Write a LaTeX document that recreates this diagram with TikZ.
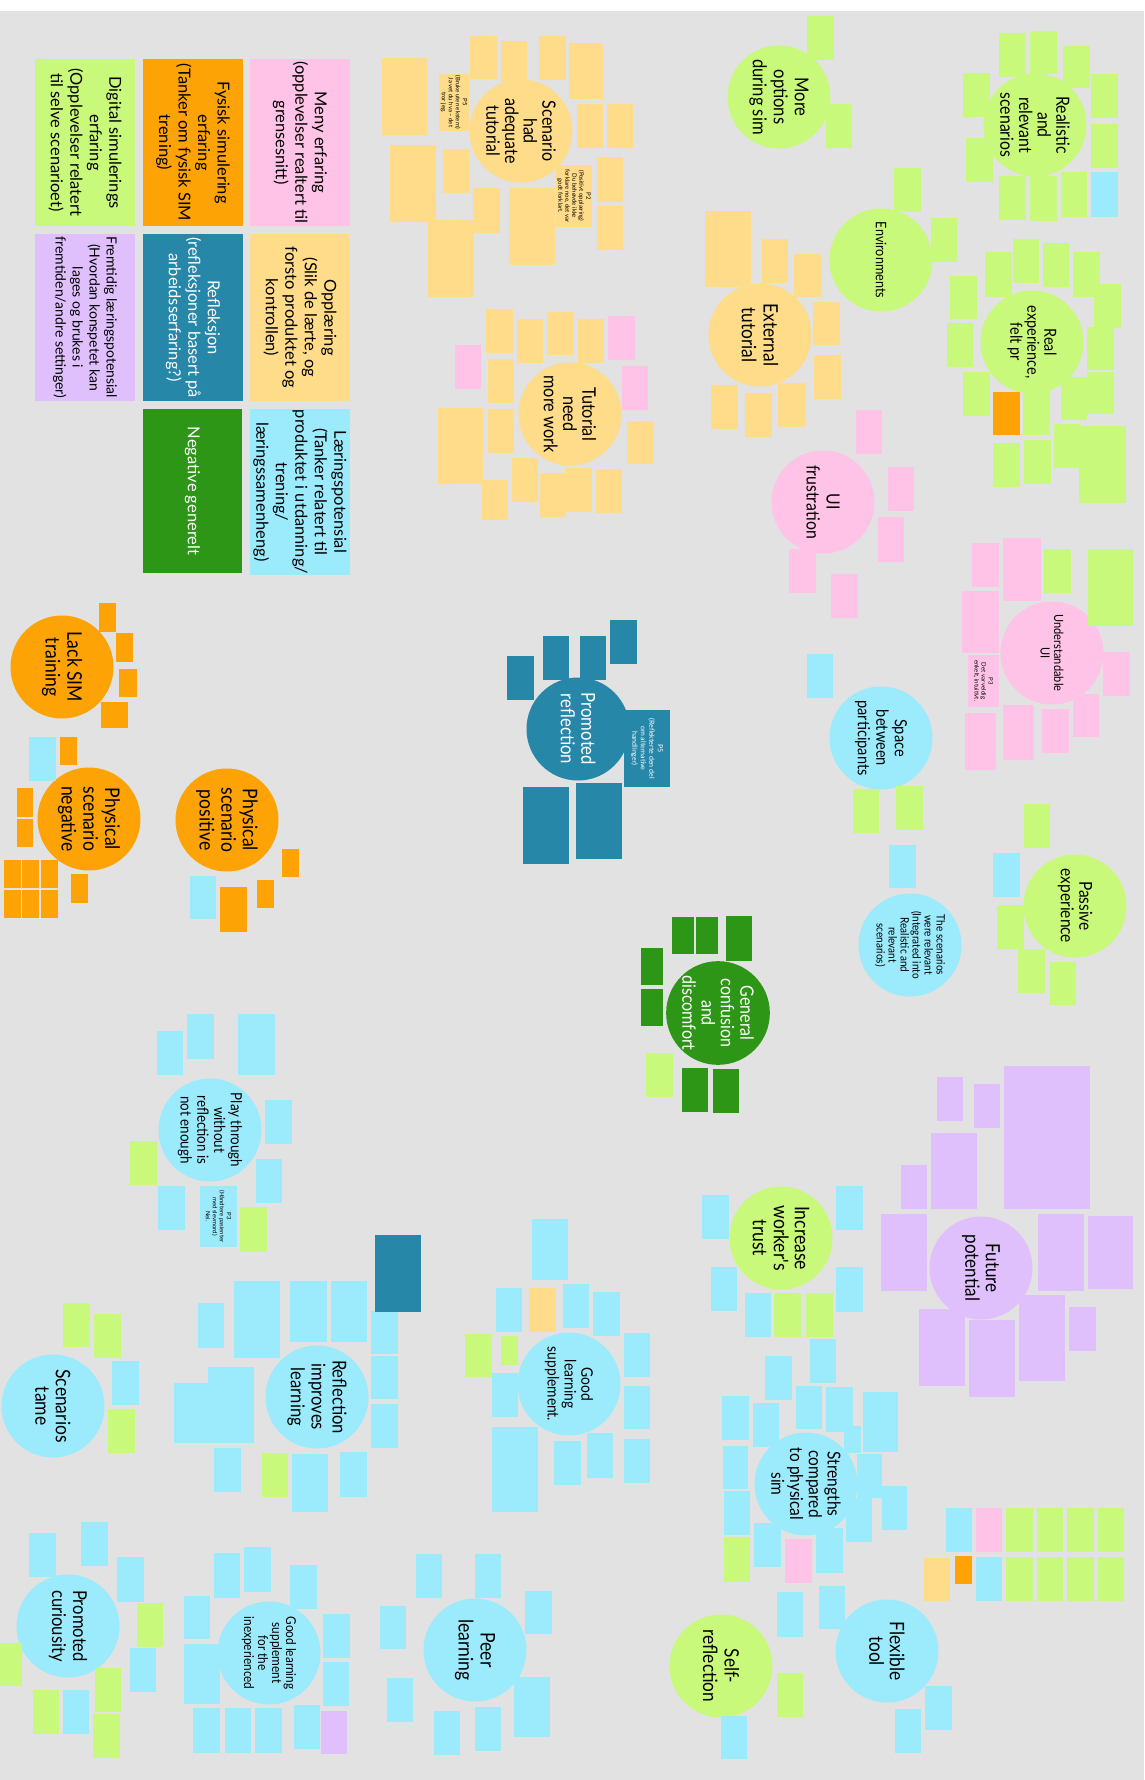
\documentclass[tikz,border=0pt]{standalone}
\usepackage{fontspec}
\setmainfont{Lato}
\newfontfamily\circfont[FakeStretch=0.87]{Lato}
\definecolor{bgc}{HTML}{E2E2E2}
\definecolor{pinkc}{HTML}{FEC3E6}
\definecolor{yelc}{HTML}{FEDC8A}
\definecolor{limec}{HTML}{C9F97B}
\definecolor{orc}{HTML}{FDA306}
\definecolor{tealc}{HTML}{2787A8}
\definecolor{dgrc}{HTML}{2E9616}
\definecolor{cyanc}{HTML}{9CEBFD}
\definecolor{lavc}{HTML}{DFBFFC}
\newcommand\myfs[2]{\fontsize{#1}{#2}\selectfont}
\newcommand\cfs[2]{\circfont\fontsize{#1}{#2}\selectfont}
\tikzset{
  circ/.style={circle, minimum size=103pt, inner sep=0pt, align=center, rotate=-90, font=\cfs{19}{21}},
  legtxt/.style={align=center, rotate=-90, inner sep=0pt, font=\myfs{16.5}{19.5}},
  sttxt/.style={align=center, rotate=-90, inner sep=0pt, font=\myfs{6}{7}}
}
\begin{document}
\begin{tikzpicture}[x=1pt,y=-1pt]
\useasboundingbox (0,0) rectangle (1144,1780);
\fill[white] (0,0) rectangle (1144,1780);
\fill[bgc] (0,11) rectangle (1144,1780);

% ---------- legend ----------
\fill[limec] (35,59) rectangle (135,226);
\node[legtxt] (lg1) at (85,142.5) {Digital simulerings\\erfaring\\(Opplevelser relatert\\til selve scenarioet)};
\fill[orc] (143,59) rectangle (243,226);
\node[legtxt] (lg2) at (193,142.5) {Fysisk simulering\\erfaring\\(Tanker om fysisk SIM\\trening)};
\fill[pinkc] (250,59) rectangle (350,226);
\node[legtxt] (lg3) at (300,142.5) {Meny erfaring\\(opplevelser realtert til\\grensesnitt)};
\fill[lavc] (35,234) rectangle (135,401);
\node[legtxt, font=\myfs{14}{17}] (lg4) at (85,317.5) {Fremtidig læringspotensial\\(Hvordan konspetet kan\\lages og brukes i\\fremtiden/andre settinger)};
\fill[tealc] (143,234) rectangle (243,401);
\node[legtxt, text=white] (lg5) at (193,317.5) {Refleksjon\\(refleksjoner basert på\\arbeidsserfaring?)};
\fill[yelc] (250,234) rectangle (350,401);
\node[legtxt] (lg6) at (300,317.5) {Opplæring\\(Slik de lærte, og\\forsto produktet og\\kontrollen)};
\fill[dgrc] (143,409) rectangle (242,573);
\node[legtxt, text=white] (lg7) at (192.5,491) {Negative generelt};
\fill[cyanc] (250,409) rectangle (350,575);
\node[legtxt] (lg8) at (300,492) {Læringspotensial\\(Tanker relatert til\\produktet i utdanning/\\trening/\\læringssamenheng)};

% ---------- circles ----------
\node[circ, fill=orc, font=\cfs{20.2}{21.7}] (lack) at (62,667) {Lack SIM\\training};
\node[circ, fill=orc, font=\cfs{20.2}{21.7}] (physneg) at (89,819) {Physical\\scenario\\negative};
\node[circ, fill=orc, font=\cfs{20.2}{21.7}] (physpos) at (227,820) {Physical\\scenario\\positive};
\node[circ, fill=yelc, font=\cfs{18.4}{18.6}] (adeq) at (521,131) {Scenario\\had\\adequate\\tutorial};
\node[circ, fill=yelc, font=\cfs{18.7}{19.2}] (tneed) at (570,414) {Tutorial\\need\\more work};
\node[circ, fill=yelc, font=\cfs{19.9}{21.7}] (ext) at (760,335) {External\\tutorial};
\node[circ, fill=limec, font=\cfs{19.1}{21}] (moreopt) at (779,97) {More\\options\\during sim};
\node[circ, fill=limec, font=\cfs{18.2}{18.6}] (realis) at (1035,125) {Realistic\\and\\relevant\\scenarios};
\node[circ, fill=limec, font=\cfs{14.5}{16}] (env) at (881,260) {Environments};
\node[circ, fill=limec, font=\cfs{16.6}{17}] (realexp) at (1032,342) {Real\\experience,\\felt pr};
\node[circ, fill=pinkc, font=\cfs{18.2}{20}] (uifr) at (823,502) {UI\\frustration};
\node[circ, fill=pinkc, font=\cfs{12.7}{13.6}] (underst) at (1052,653) {Understandable\\UI};
\node[circ, fill=tealc, text=white, font=\cfs{19.2}{20.5}] (promref) at (578,729) {Promoted\\reflection};
\node[circ, fill=cyanc, font=\cfs{16.8}{18.5}] (space) at (881,738) {Space\\between\\participants};
\node[circ, fill=cyanc, font=\cfs{11.5}{12}] (screl) at (910,945) {The scenarios\\were relevant\\(Integrated into\\Realistic and\\relevant\\scenarios)};
\node[circ, fill=limec, font=\cfs{17.8}{18.5}] (passive) at (1075,906) {Passive\\experience};
\node[circ, fill=dgrc, text=white, font=\cfs{18.4}{19.3}] (genconf) at (718,1013) {General\\confusion\\and\\discomfort};
\node[circ, fill=lavc, font=\cfs{19.6}{20.5}] (future) at (981,1268) {Future\\potential};
\node[circ, fill=limec, font=\cfs{20.2}{21}] (trust) at (781,1238) {Increase\\worker's\\trust};
\node[circ, fill=cyanc, font=\cfs{15.9}{16.8}] (goodls) at (569,1384) {Good\\learning\\supplement.};
\node[circ, fill=cyanc, font=\cfs{19.1}{20.8}] (reflimp) at (317,1397) {Reflection\\improves\\learning};
\node[circ, fill=cyanc, font=\cfs{20.1}{20.5}] (tame) at (53,1406) {Scenarios\\tame};
\node[circ, fill=cyanc, font=\cfs{15.4}{16.7}] (play) at (210,1130) {Play through\\without\\reflection is\\not enough};
\node[circ, fill=cyanc, font=\cfs{17.8}{18.7}] (strength) at (806,1484) {Strengths\\compared\\to physical\\sim};
\node[circ, fill=cyanc, font=\cfs{20}{20.5}] (flex) at (887,1651) {Flexible\\tool};
\node[circ, fill=limec, font=\cfs{19.8}{21.5}] (selfref) at (721,1666) {Self-\\reflection};
\node[circ, fill=cyanc, font=\cfs{19.1}{21}] (curio) at (68,1626) {Promoted\\curiousity};
\node[circ, fill=cyanc, font=\cfs{13.6}{14}] (glsinexp) at (269,1653) {Good learning\\supplement\\for the\\inexperienced};
\node[circ, fill=cyanc, font=\cfs{20.2}{22}] (peer) at (475,1650) {Peer\\learning};

% ---------- stickies ----------
\foreach \a/\b/\c/\d in {99/603/116/632, 116/633/133/662, 119/669/137/697, 101/702/128/728, 60/737/77/765, 17/788/33/817, 17/819/33/847, 4/860/21/888, 22/860/39/888, 41/860/58/888, 4/890/21/918, 22/890/39/918, 41/890/58/918, 71/874/88/903, 282/849/299/877, 257/880/274/908, 220/887/247/932, 993/392/1020/435, 955/1556/972/1584}
  \fill[orc] (\a,\b) rectangle (\c,\d);

\foreach \a/\b/\c/\d in {29/737/56/781, 190/876/216/919, 1091/172/1118/217, 807/654/833/698, 889/845/916/888, 993/853/1020/897,
 702/1195/729/1239, 836/1186/863/1230, 836/1267/863/1312, 711/1267/737/1311, 745/1293/771/1337,
 810/1339/836/1383, 765/1356/792/1400, 796/1386/822/1429, 826/1387/853/1432, 863/1392/898/1452, 722/1396/749/1440, 753/1403/779/1447, 844/1426/861/1453, 723/1446/748/1489, 857/1454/882/1498, 882/1486/907/1530, 724/1491/750/1535, 846/1498/872/1542, 754/1523/781/1567, 816/1528/843/1573, 777/1592/803/1637, 819/1586/845/1629,
 532/1219/568/1280, 496/1288/522/1332, 563/1284/589/1328, 593/1292/620/1336, 624/1333/650/1377, 624/1386/650/1429, 492/1373/518/1417, 624/1439/650/1483, 587/1433/613/1478, 554/1441/581/1485, 492/1427/538/1512,
 238/1014/275/1075, 187/1014/214/1059, 157/1031/183/1075, 265/1100/292/1144, 256/1159/282/1203, 158/1186/185/1230, 200/1186/237/1247,
 331/1281/367/1342, 290/1281/327/1342, 234/1281/280/1358, 198/1303/224/1348, 371/1311/398/1354, 371/1356/398/1399, 371/1404/398/1448, 208/1367/254/1443, 174/1383/208/1443, 214/1448/241/1492, 292/1454/328/1512, 340/1452/367/1497,
 112/1361/139/1405,
 29/1533/56/1577, 81/1522/108/1566, 117/1557/144/1602, 130/1648/156/1692, 63/1690/89/1734,
 214/1553/240/1598, 244/1547/271/1592, 290/1565/317/1609, 184/1596/210/1639, 184/1644/220/1704, 323/1614/350/1658, 323/1662/349/1706, 193/1708/220/1753, 225/1708/251/1753, 255/1708/282/1753, 294/1705/320/1749,
 416/1554/442/1598, 475/1554/501/1598, 380/1606/406/1649, 525/1591/552/1634, 387/1678/413/1722, 514/1677/550/1737, 434/1711/460/1755, 475/1707/501/1751,
 925/1686/952/1730, 895/1709/921/1753, 721/1716/747/1759, 946/1508/972/1552, 976/1557/1002/1601}
  \fill[cyanc] (\a,\b) rectangle (\c,\d);

\foreach \a/\b/\c/\d in {999/33/1026/77, 1030/31/1057/74, 1063/46/1090/88, 1091/74/1118/118, 1091/124/1118/168, 1061/172/1087/217, 1030/176/1057/221, 999/176/1026/220, 963/73/990/117, 966/138/993/182,
 807/16/834/60, 826/104/852/148, 894/168/921/212, 931/218/957/262,
 1013/239/1039/283, 1043/243/1069/287, 1073/252/1100/297, 1094/284/1121/328, 985/252/1012/297, 950/276/977/319, 947/323/973/367, 963/372/990/416, 1023/391/1050/435, 1061/377/1087/420, 1087/327/1114/370, 1087/372/1114/414, 993/443/1020/487, 1024/440/1051/484, 1054/424/1081/468, 1079/426/1126/503,
 1044/549/1071/593, 1088/549/1133/626, 853/789/879/833, 896/786/923/830,
 1024/804/1050/848, 997/905/1024/949, 1018/949/1045/993, 1050/962/1076/1005,
 646/1053/673/1097, 774/1293/801/1337, 806/1293/833/1337, 724/1537/750/1582,
 501/1336/518/1365, 465/1334/492/1377, 130/1141/157/1185, 240/1207/267/1252, 262/1453/288/1497,
 63/1303/90/1347, 94/1314/121/1358, 108/1409/135/1453,
 137/1603/163/1647, 0/1643/22/1686, 95/1668/121/1712, 33/1690/59/1734, 93/1714/120/1758,
 1006/1508/1033/1552, 1037/1508/1063/1552, 1067/1508/1094/1552, 1098/1508/1124/1552, 1006/1557/1033/1601, 1037/1557/1063/1601, 1067/1557/1094/1601, 1098/1557/1124/1601,
 777/1673/803/1717}
  \fill[limec] (\a,\b) rectangle (\c,\d);

\foreach \a/\b/\c/\d in {382/58/427/135, 470/36/497/79, 501/41/527/82, 539/36/566/80, 569/43/603/99, 439/74/469/131, 577/104/603/148, 607/104/633/148, 390/145/436/222, 443/149/469/193, 473/188/500/233, 428/220/474/297, 509/188/555/265, 556/165/592/227, 597/157/623/202, 597/206/623/250,
 486/309/513/353, 517/319/543/363, 547/312/573/355, 578/319/604/363, 488/359/514/403, 488/409/514/453, 438/408/483/484, 627/421/653/464, 482/480/508/520, 512/458/538/502, 540/473/566/517, 566/468/592/512, 596/469/622/513,
 705/211/751/287, 762/239/788/283, 794/254/821/297, 813/302/840/345, 814/355/841/399, 778/383/805/427, 745/393/772/437, 711/385/738/429,
 529/1288/556/1332, 924/1558/950/1601}
  \fill[yelc] (\a,\b) rectangle (\c,\d);

\foreach \a/\b/\c/\d in {608/316/635/360, 455/345/481/389, 622/366/648/410,
 856/410/882/454, 888/467/914/511, 878/517/904/562, 789/549/816/593, 831/574/858/618,
 972/543/999/587, 1003/538/1041/601, 962/591/999/653, 968/655/999/707, 1103/652/1130/696, 1073/694/1099/737, 1042/709/1069/753, 1003/705/1034/760, 965/713/996/770,
 785/1539/812/1583, 976/1508/1002/1552}
  \fill[pinkc] (\a,\b) rectangle (\c,\d);

\foreach \a/\b/\c/\d in {1004/1066/1090/1209, 937/1077/963/1121, 974/1084/1000/1128, 931/1133/977/1209, 901/1165/927/1209, 881/1214/927/1291, 1038/1214/1084/1291, 1088/1216/1133/1289, 1019/1295/1065/1381, 1069/1307/1096/1351, 969/1320/1015/1397, 919/1309/965/1386, 321/1711/347/1754}
  \fill[lavc] (\a,\b) rectangle (\c,\d);

\foreach \a/\b/\c/\d in {610/620/637/664, 580/636/606/680, 543/636/569/680, 507/656/534/700, 624/710/670/787, 576/783/622/859, 523/787/569/864, 375/1235/421/1312}
  \fill[tealc] (\a,\b) rectangle (\c,\d);

\foreach \a/\b/\c/\d in {672/917/694/954, 696/917/718/954, 726/916/752/961, 641/948/663/985, 641/989/663/1026, 682/1068/708/1112, 713/1069/739/1113}
  \fill[dgrc] (\a,\b) rectangle (\c,\d);

% ---------- readable sticky texts ----------
\node[sttxt, font=\myfs{7}{8.5}, text=white] (s1) at (647,748.5) {P5\\(Reflekterte den del\\om alternative\\handlinger)};
\node[sttxt] (s2) at (983.5,681) {P3\\Det var veldig\\enkelt, intuitivt.};
\node[sttxt] (s3) at (218.5,1216.5) {P3\\(Håndtere pasienter\\med slevmord)\\Nei.};
\node[sttxt] (s4) at (574,196) {P2\\(Positivt opplæring)\\Du behøvde ikke\\forklare noe, det var\\godt forklart.};
\node[sttxt] (s5) at (454,102.5) {P5\\(Bruke uten ekstern)\\Ja vet du hva – det\\tror jeg.};
\end{tikzpicture}
\end{document}
